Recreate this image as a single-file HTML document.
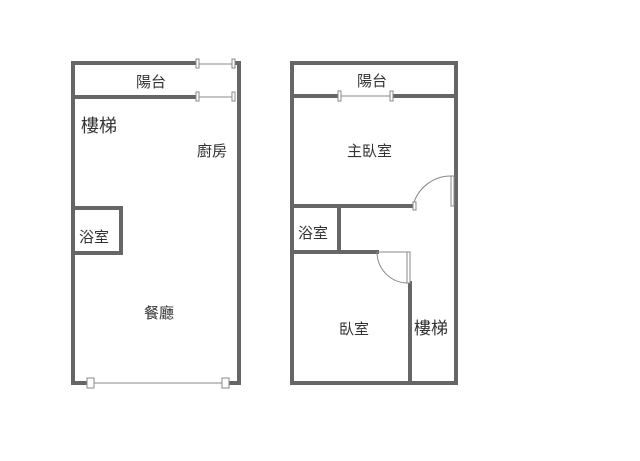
<html><body style="margin:0;background:#fff;width:640px;height:461px;overflow:hidden">
<svg width="640" height="461" xmlns="http://www.w3.org/2000/svg" style="font-family:'Liberation Sans','Noto Sans CJK TC',sans-serif">
<g stroke="#666" stroke-width="4" fill="none" stroke-linecap="square">
<!-- left plan -->
<polyline points="197,63 73,63 73,383 88,383"/>
<polyline points="226,383 239,383 239,63 235,63"/>
<line x1="73" y1="97" x2="197" y2="97"/>
<rect x="73" y="208" width="48" height="45"/>
<!-- right plan -->
<rect x="292" y="63" width="164" height="320"/>
<line x1="292" y1="96" x2="339" y2="96"/>
<line x1="392" y1="96" x2="456" y2="96"/>
<line x1="292" y1="206" x2="412" y2="206"/>
<line x1="339" y1="206" x2="339" y2="252"/>
<line x1="292" y1="252" x2="377" y2="252"/>
<line x1="410" y1="283" x2="410" y2="383"/>
</g>
<g stroke="#888" stroke-width="1" fill="#fff">
<line x1="197" y1="64" x2="233" y2="64"/><line x1="197" y1="97" x2="233" y2="97"/>
<rect x="196" y="59" width="3" height="9"/><rect x="232" y="59" width="3" height="9"/>
<rect x="196" y="92" width="3" height="9"/><rect x="232" y="92" width="3" height="9"/>
<line x1="91" y1="383" x2="226" y2="383"/>
<rect x="87" y="378" width="7" height="10"/><rect x="222" y="378" width="7" height="10"/>
<line x1="339" y1="96" x2="392" y2="96"/>
<rect x="338" y="91" width="3" height="10"/><rect x="390" y="91" width="3" height="10"/>
<path d="M413,206 A39,39 0 0 1 452,176" fill="none"/>
<rect x="451" y="176" width="3" height="30"/><rect x="413" y="202" width="3" height="8"/>
<path d="M377,252 A31,31 0 0 0 408,283" fill="none"/>
<line x1="377" y1="252" x2="410" y2="252"/>
<rect x="407" y="252" width="3" height="31"/>
</g>
<g fill="#333" font-size="15">
<text x="136" y="87">陽台</text>
<text x="357" y="86">陽台</text>
<text x="81" y="132" font-size="18">樓梯</text>
<text x="197" y="156">廚房</text>
<text x="347" y="156">主臥室</text>
<text x="79" y="242">浴室</text>
<text x="298" y="238">浴室</text>
<text x="144" y="318">餐廳</text>
<text x="339" y="334">臥室</text>
<text x="414" y="334" font-size="17">樓梯</text>
</g>
</svg>
</body></html>
